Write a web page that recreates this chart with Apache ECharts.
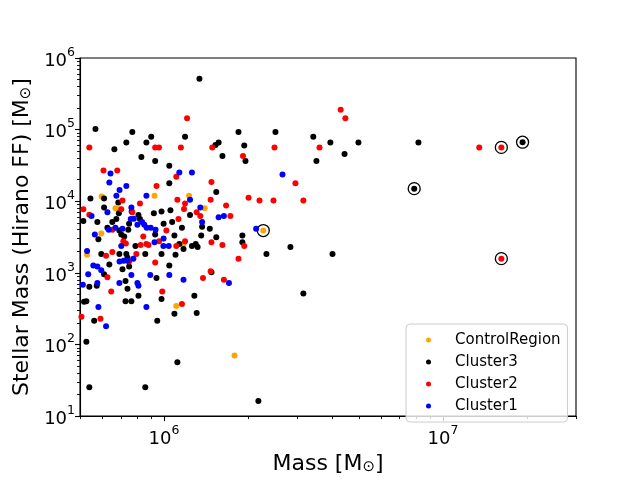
<!DOCTYPE html>
<html><head><meta charset="utf-8">
<script src="https://cdn.jsdelivr.net/npm/echarts@6/dist/echarts.min.js"></script>
<style>html,body{margin:0;padding:0;background:#fff}#c{width:640px;height:480px}</style>
</head><body><div id="c"></div>
<script>
const FONT = 'DejaVu Sans';
const seriesNames = ['ControlRegion', 'Cluster3', 'Cluster2', 'Cluster1'];
const seriesColors = ['#ffa500', '#000000', '#ff0000', '#0000ff'];

const controlRegion = [
  [5.98e5, 1.16e4], [9.25e5, 1.19e4], [1.23e6, 1.19e4], [6.7e5, 7.96e3], [6.92e5, 7.7e3],
  [1.40e6, 7.96e3], [5.96e5, 3.55e3], [5.3e5, 1.79e3], [1.107e6, 3.44e2], [1.79e6, 70.3],
  [2.27e6, 3.9e3], [1.175e6, 2.52e3]
];

const cluster3 = [
  [1.34e6, 5.15e5], [5.68e5, 1.02e5], [7.7e5, 9.3e4], [9.0e5, 7.96e4], [1.19e6, 7.96e4],
  [7.33e5, 6.6e4], [8.65e5, 6.6e4], [6.64e5, 5.3e4], [1.53e6, 6.08e4], [1.57e6, 6.6e4],
  [1.85e6, 9.3e4], [1.94e6, 6.0e4], [1.96e6, 3.66e4], [1.62e6, 4.27e4], [8.3e5, 4.14e4],
  [9.3e5, 3.66e4], [1.045e6, 3.13e4],
  [1.045e6, 1.79e4], [1.54e6, 1.35e4], [5.45e5, 1.09e4], [6.1e5, 1.09e4], [6.86e5, 9.6e3],
  [6.1e5, 8.2e3], [6.89e5, 6.8e3], [8.1e5, 6.4e3], [9.2e5, 6.8e3], [9.8e5, 7.2e3],
  [1.055e6, 7.5e3], [1.24e6, 6.4e3], [5.14e5, 5.3e3], [5.77e5, 5.15e3], [6.53e5, 5.15e3],
  [6.75e5, 5.65e3], [7.66e5, 7.2e3], [8.2e5, 5.65e3], [9.97e5, 4.84e3], [1.07e6, 5.15e3],
  [7.5e5, 4.84e3], [6.27e5, 4.28e3], [6.92e5, 3.9e3], [7.45e5, 4.0e3], [1.16e6, 4.28e3],
  [1.46e6, 4.14e3], [1.37e6, 4.4e3], [5.82e5, 2.94e3], [7.03e5, 3.44e3], [7.2e5, 3.23e3],
  [9.3e5, 3.44e3], [1.09e6, 3.33e3], [1.36e6, 3.33e3], [1.54e6, 3.13e3], [7.9e5, 2.37e3],
  [1.135e6, 2.52e3], [1.175e6, 2.16e3], [1.26e6, 2.37e3], [1.30e6, 2.52e3], [1.32e6, 2.29e3],
  [5.96e5, 1.84e3], [6.92e5, 1.84e3], [7.33e5, 1.84e3], [7.4e5, 1.63e3], [8.57e5, 1.84e3],
  [9.8e5, 1.84e3], [1.10e6, 1.79e3], [6.37e5, 1.31e3], [7.5e5, 1.23e3], [1.045e6, 1.27e3],
  [7.1e5, 1.12e3], [6.1e5, 9.6e2], [1.48e6, 1.02e3], [5.4e5, 6.4e2], [5.74e5, 6.6e2],
  [7.28e5, 7.7e2], [9.4e5, 8.5e2], [7.4e5, 6.0e2],
  [5.17e5, 3.94e2], [5.27e5, 4.0e2], [7.28e5, 4.0e2], [7.64e5, 4.0e2], [8.1e5, 4.8e2],
  [9.8e5, 4.3e2], [1.285e6, 4.8e2], [1.09e6, 2.68e2], [1.31e6, 2.76e2], [5.62e5, 2.15e2],
  [9.46e5, 2.15e2], [5.27e5, 1.09e2], [1.117e6, 56.5], [5.4e5, 25.2], [8.57e5, 25.2],
  [2.51e6, 9.3e4], [3.43e6, 7.96e4], [3.95e6, 6.6e4], [4.98e6, 6.6e4], [4.44e6, 4.55e4],
  [3.52e6, 3.66e4],
  [1.91e6, 3.33e3], [1.91e6, 2.68e3], [2.84e6, 2.29e3], [2.33e6, 1.84e3], [4.02e6, 1.84e3],
  [3.16e6, 5.15e2], [2.18e6, 16.3],
  [8.17e6, 6.6e4], [1.93e7, 6.67e4], [7.89e6, 1.5e4]
];

const cluster2 = [
  [1.21e6, 1.44e5], [5.4e5, 5.65e4], [9.3e5, 5.65e4], [9.6e5, 5.65e4], [1.15e6, 5.65e4],
  [1.49e6, 5.65e4], [1.92e6, 4.27e4], [6.07e5, 2.68e4], [6.8e5, 2.68e4],
  [1.107e6, 2.2e4], [1.48e6, 1.85e4], [9.4e5, 1.63e4], [7.1e5, 1.02e4], [1.117e6, 1.05e4],
  [1.47e6, 1.05e4], [8.2e5, 9.3e3], [1.19e6, 9.3e3], [7.03e5, 7.7e3], [1.18e6, 7.8e3],
  [1.67e6, 8.7e3], [5.14e5, 7.7e3], [7.7e5, 7.0e3], [1.31e6, 7.0e3], [1.35e6, 6.2e3],
  [1.73e6, 6.2e3], [5.4e5, 6.5e3], [1.127e6, 5.65e3], [6.53e5, 4.0e3], [1.02e6, 3.9e3],
  [8.43e5, 3.23e3], [7.15e5, 2.77e3], [7.3e5, 2.57e3], [8.25e5, 2.44e3], [8.65e5, 2.52e3],
  [8.8e5, 2.44e3], [9.6e5, 2.77e3], [1.107e6, 2.37e3], [1.19e6, 2.77e3], [1.48e6, 2.68e3],
  [1.62e6, 2.44e3], [6.2e5, 1.73e3], [6.53e5, 1.96e3], [7.96e5, 1.84e3], [1.85e6, 1.58e3],
  [7.5e5, 1.44e3], [9.3e5, 1.39e3], [1.47e6, 1.05e3], [6.27e5, 8.7e2], [1.38e6, 8.5e2],
  [1.64e6, 8.0e2], [6.47e5, 5.5e2], [9.86e5, 5.5e2],
  [1.16e6, 3.66e2], [5.06e5, 2.44e2], [5.92e5, 2.29e2],
  [4.3e6, 1.9e5], [4.47e6, 1.44e5], [2.49e6, 5.65e4], [3.61e6, 5.65e4],
  [2.96e6, 1.79e4], [2.01e6, 1.12e4], [2.2e6, 1.02e4], [2.47e6, 1.02e4], [3.16e6, 1.02e4],
  [1.94e6, 2.37e3],
  [1.35e7, 5.65e4], [1.62e7, 5.65e4], [1.62e7, 1.58e3]
];

const cluster1 = [
  [6.43e5, 2.44e4], [1.135e6, 2.52e4], [1.26e6, 2.52e4],
  [6.37e5, 1.82e4], [7.33e5, 1.63e4], [6.93e5, 1.44e4], [6.75e5, 1.19e4], [8.65e5, 1.19e4],
  [1.24e6, 1.05e4], [7.64e5, 8.2e3], [1.35e6, 8.2e3], [6.27e5, 7.0e3], [1.57e6, 6.0e3],
  [1.64e6, 6.2e3], [5.5e5, 6.2e3], [7.6e5, 5.65e3], [7.8e5, 5.7e3], [8.35e5, 5.15e3],
  [1.37e6, 5.15e3], [6.34e5, 4.0e3], [6.7e5, 4.28e3], [7.1e5, 4.14e3], [8.03e5, 4.7e3],
  [8.5e5, 4.7e3], [8.67e5, 4.28e3], [8.96e5, 4.28e3], [9.33e5, 4.0e3], [5.65e5, 3.44e3],
  [9.97e5, 3.03e3], [7.03e5, 2.37e3], [9.25e5, 2.68e3], [9.95e5, 2.37e3], [1.04e6, 2.37e3],
  [5.3e5, 2.02e3], [6.93e5, 1.44e3], [7.17e5, 1.48e3], [7.4e5, 1.48e3], [7.77e5, 1.58e3],
  [5.58e5, 1.27e3], [5.77e5, 1.23e3], [5.96e5, 1.09e3], [5.35e5, 9.6e2], [7.64e5, 9.3e2],
  [8.93e5, 9.3e2], [1.045e6, 9.3e2], [5.12e5, 6.8e2], [5.77e5, 7.2e2], [6.92e5, 7.2e2],
  [8.03e5, 7.2e2], [8.1e5, 6.6e2], [1.175e6, 8.0e2], [1.71e6, 7.2e2],
  [5.82e5, 3.33e2], [8.65e5, 3.33e2], [6.2e5, 1.79e2],
  [2.66e6, 2.37e4], [2.14e6, 4.14e3]
];

const highlighted = [
  [2.27e6, 3.9e3], [7.89e6, 1.5e4], [1.62e7, 5.65e4], [1.93e7, 6.67e4], [1.62e7, 1.58e3]
];

const xRange = [5e5, 3e7];
const yRange = [10, 1e6];
const xMajorTicks = [1e6, 1e7];
const xMinorTicks = [5e5, 6e5, 7e5, 8e5, 9e5, 2e6, 3e6, 4e6, 5e6, 6e6, 7e6, 8e6, 9e6, 2e7, 3e7];
const yMajorTicks = [1e1, 1e2, 1e3, 1e4, 1e5, 1e6];
const yMinorTicks = [];
[1e1, 1e2, 1e3, 1e4, 1e5].forEach(d => { for (let m = 2; m <= 9; m++) yMinorTicks.push(m * d); });

const xLabel = '{n|Mass [M}{u|\u2299}{n|]}';
const yLabel = '{n|Stellar Mass (Hirano FF) [M}{u|\u2299}{n|]}';

function powLabel(v) {
  const e = Math.round(Math.log10(v));
  return '{b|10}{s|' + e + '}';
}
const tickRich = {
  b: { fontSize: 18, lineHeight: 24, verticalAlign: 'bottom', fontFamily: FONT, color: '#000' },
  s: { fontSize: 12.5, lineHeight: 12, verticalAlign: 'top', fontFamily: FONT, color: '#000' }
};
const nameRich = {
  n: { fontSize: 22, lineHeight: 24, verticalAlign: 'bottom', fontFamily: FONT, color: '#000' },
  u: { fontSize: 15, lineHeight: 15, verticalAlign: 'bottom', fontFamily: FONT, color: '#000' }
};

const chart = echarts.init(document.getElementById('c'), null, { renderer: 'canvas' });

function majorAxis(range, ticks, isX) {
  return {
    type: 'log', logBase: 10, min: range[0], max: range[1],
    position: isX ? 'bottom' : 'left',
    name: isX ? xLabel : yLabel,
    nameLocation: 'middle',
    nameGap: isX ? 26 : 38,
    nameTextStyle: { fontFamily: FONT, fontSize: 22, color: '#000', rich: nameRich },
    axisLine: { show: true, lineStyle: { color: '#000', width: 1.1 } },
    axisTick: { show: true, inside: false, length: 5, customValues: ticks, lineStyle: { color: '#000', width: 1.1 } },
    axisLabel: { show: true, customValues: ticks, margin: isX ? 8 : 5, formatter: powLabel, rich: tickRich, fontFamily: FONT, color: '#000' },
    splitLine: { show: false },
    minorTick: { show: false },
    minorSplitLine: { show: false }
  };
}
function minorAxis(range, ticks, isX) {
  return {
    type: 'log', logBase: 10, min: range[0], max: range[1],
    position: isX ? 'bottom' : 'left',
    axisLine: { show: false },
    axisTick: { show: true, inside: false, length: 3, customValues: ticks, lineStyle: { color: '#000', width: 0.9 } },
    axisLabel: { show: false },
    splitLine: { show: false }
  };
}

const scatterSeries = [controlRegion, cluster3, cluster2, cluster1].map((d, i) => ({
  name: seriesNames[i], type: 'scatter', data: d, symbol: 'circle', symbolSize: 6,
  itemStyle: { color: seriesColors[i], opacity: 1 }, z: 3, emphasis: { disabled: true }
}));

chart.setOption({
  animation: false,
  backgroundColor: '#fff',
  grid: { left: 80, right: 64, top: 58, bottom: 52, show: true, borderColor: '#000', borderWidth: 1.1, backgroundColor: '#fff' },
  xAxis: [majorAxis(xRange, xMajorTicks, true), minorAxis(xRange, xMinorTicks, true)],
  yAxis: [majorAxis(yRange, yMajorTicks, false), minorAxis(yRange, yMinorTicks, false)],
  legend: {
    data: seriesNames, orient: 'vertical', left: 406, top: 324,
    icon: 'circle', itemWidth: 5, itemHeight: 5, itemGap: 0,
    padding: [5, 7, 5, 20],
    itemStyle: { opacity: 1 },
    textStyle: { fontFamily: FONT, fontSize: 15, lineHeight: 22, color: '#000', padding: [0, 0, 0, 19] },
    backgroundColor: 'rgba(255,255,255,0.8)', borderColor: '#cccccc', borderWidth: 1, borderRadius: 4
  },
  series: [{
    name: 'highlight', type: 'scatter', data: highlighted, symbol: 'circle', symbolSize: 12,
    itemStyle: { color: 'rgba(0,0,0,0)', borderColor: '#000', borderWidth: 1.3, opacity: 1 }, z: 2, silent: true,
    emphasis: { disabled: true }
  }].concat(scatterSeries)
});
</script></body></html>
